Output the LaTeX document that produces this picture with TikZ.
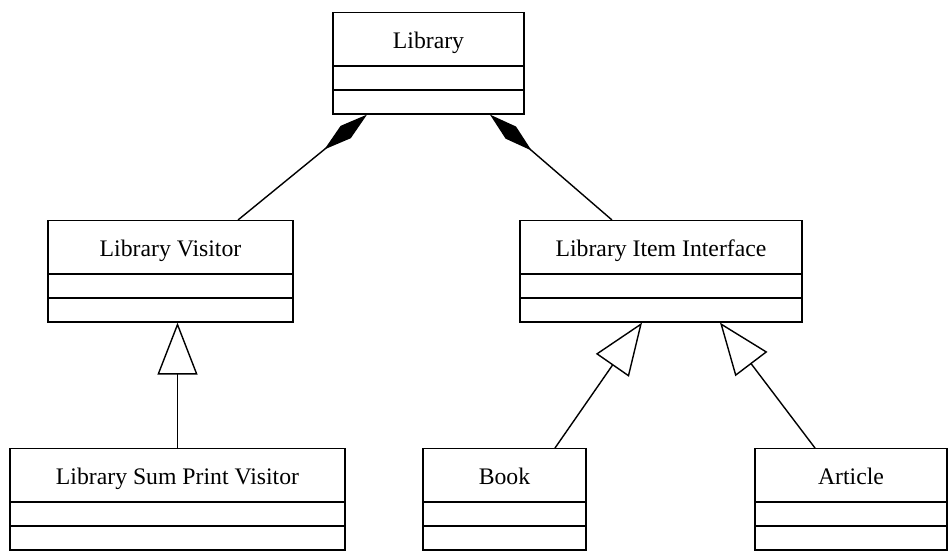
\documentclass[tikz,border=0pt]{standalone}
\usepackage{fontspec}
\setmainfont{Liberation Serif}
\usetikzlibrary{positioning,shapes.multipart,arrows.meta,calc}

\tikzset{
	umlclass/.style={draw, line width=0.8pt, rectangle split, rectangle split parts=3,
		inner xsep=2pt, inner ysep=0pt,
		rectangle split empty part height=0.45cm, rectangle split empty part depth=0pt,
		font=\fontsize{13.5}{15}\selectfont,
		execute at begin node={\rule[-0.33cm]{0pt}{1.04cm}}},
	compose/.style={{Diamond[length=1.1cm, width=0.32cm]}-, line width=0.8pt},
	inherit/.style={-{Triangle[open, length=1.04cm, width=0.8cm]}, line width=0.8pt}
}

\begin{document}
\begin{tikzpicture}
		\useasboundingbox (0,0) rectangle (19.04,-11.02);

		\node[umlclass, minimum width=3.82cm, anchor=north] (library) at (8.57,-0.24) {Library};

		\node[umlclass, minimum width=4.9cm, anchor=north] (visitor) at (3.41,-4.4) {Library Visitor};
		\node[umlclass, minimum width=5.64cm, anchor=north] (iteminterface) at (13.22,-4.4) {Library Item Interface};

		\node[umlclass, minimum width=6.7cm, anchor=north] (sumprint) at (3.55,-8.96) {Library Sum Print Visitor};
		\node[umlclass, minimum width=3.26cm, anchor=north] (book) at (10.09,-8.96) {Book};
		\node[umlclass, minimum width=3.84cm, anchor=north] (article) at (17.02,-8.96) {Article};

		\draw[compose] ($(library.south)+(-1.23,0)$) -- ($(visitor.north)+(1.35,0)$);
		\draw[compose] ($(library.south)+(1.23,0)$) -- ($(iteminterface.north)+(-0.98,0)$);

		\draw[inherit] (sumprint.north) -- (sumprint.north |- visitor.south);
		\draw[inherit] ($(book.north)+(1.01,0)$) -- ($(iteminterface.south)+(-0.38,0)$);
		\draw[inherit] ($(article.north)+(-0.72,0)$) -- ($(iteminterface.south)+(1.18,0)$);
	\end{tikzpicture}
\end{document}
